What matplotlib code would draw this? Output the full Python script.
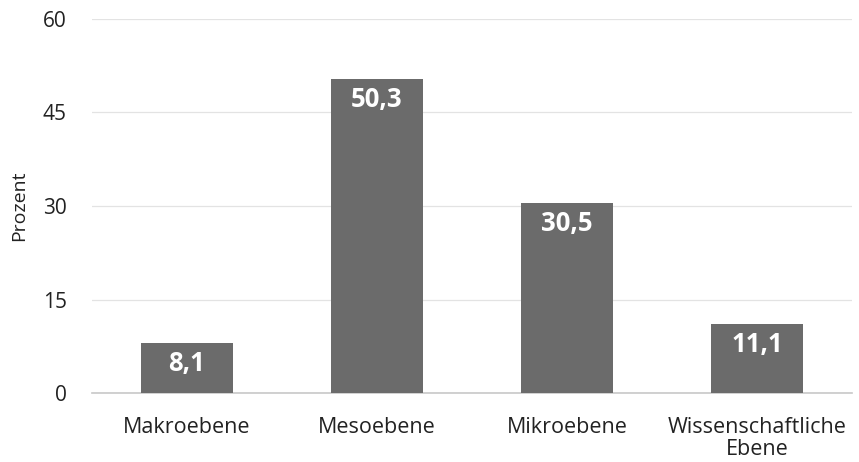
import matplotlib.pyplot as plt

categories = ["Makroebene", "Mesoebene", "Mikroebene", "Wissenschaftliche\nEbene"]
values = [8.1, 50.3, 30.5, 11.1]
value_labels = ["8,1", "50,3", "30,5", "11,1"]
y_ticks = [0, 15, 30, 45, 60]

plt.rcParams['font.family'] = ['Open Sans', 'DejaVu Sans']

fig = plt.figure(figsize=(8.59, 4.62), dpi=100)
ax = fig.add_axes([0.107, 0.149, 0.885, 0.81])

x = range(len(categories))
bars = ax.bar(x, values, width=0.48, color="#6b6b6b", zorder=3)

for bar, lab in zip(bars, value_labels):
    ax.text(bar.get_x() + bar.get_width() / 2, bar.get_height() - 1.1, lab,
            ha="center", va="top", color="white", fontsize=18.5, fontweight="bold", zorder=4)

ax.set_xlim(-0.5, len(categories) - 0.5)
ax.set_ylim(0, 60)
ax.set_yticks(y_ticks)
ax.set_xticks(list(x))
ax.set_xticklabels(categories, fontsize=15.5, color="#222222", linespacing=1.05)
ax.tick_params(axis="y", labelsize=15, labelcolor="#222222", length=0, pad=18)
ax.tick_params(axis="x", length=0, pad=17)
ax.set_ylabel("Prozent", fontsize=14, color="#222222", labelpad=11)

ax.grid(axis="y", color="#e3e3e3", linewidth=0.9, zorder=0)
for side in ["top", "right", "left"]:
    ax.spines[side].set_visible(False)
ax.spines["bottom"].set_color("#c8c8c8")
ax.spines["bottom"].set_linewidth(1.2)

fig.savefig("out.png", dpi=100)
